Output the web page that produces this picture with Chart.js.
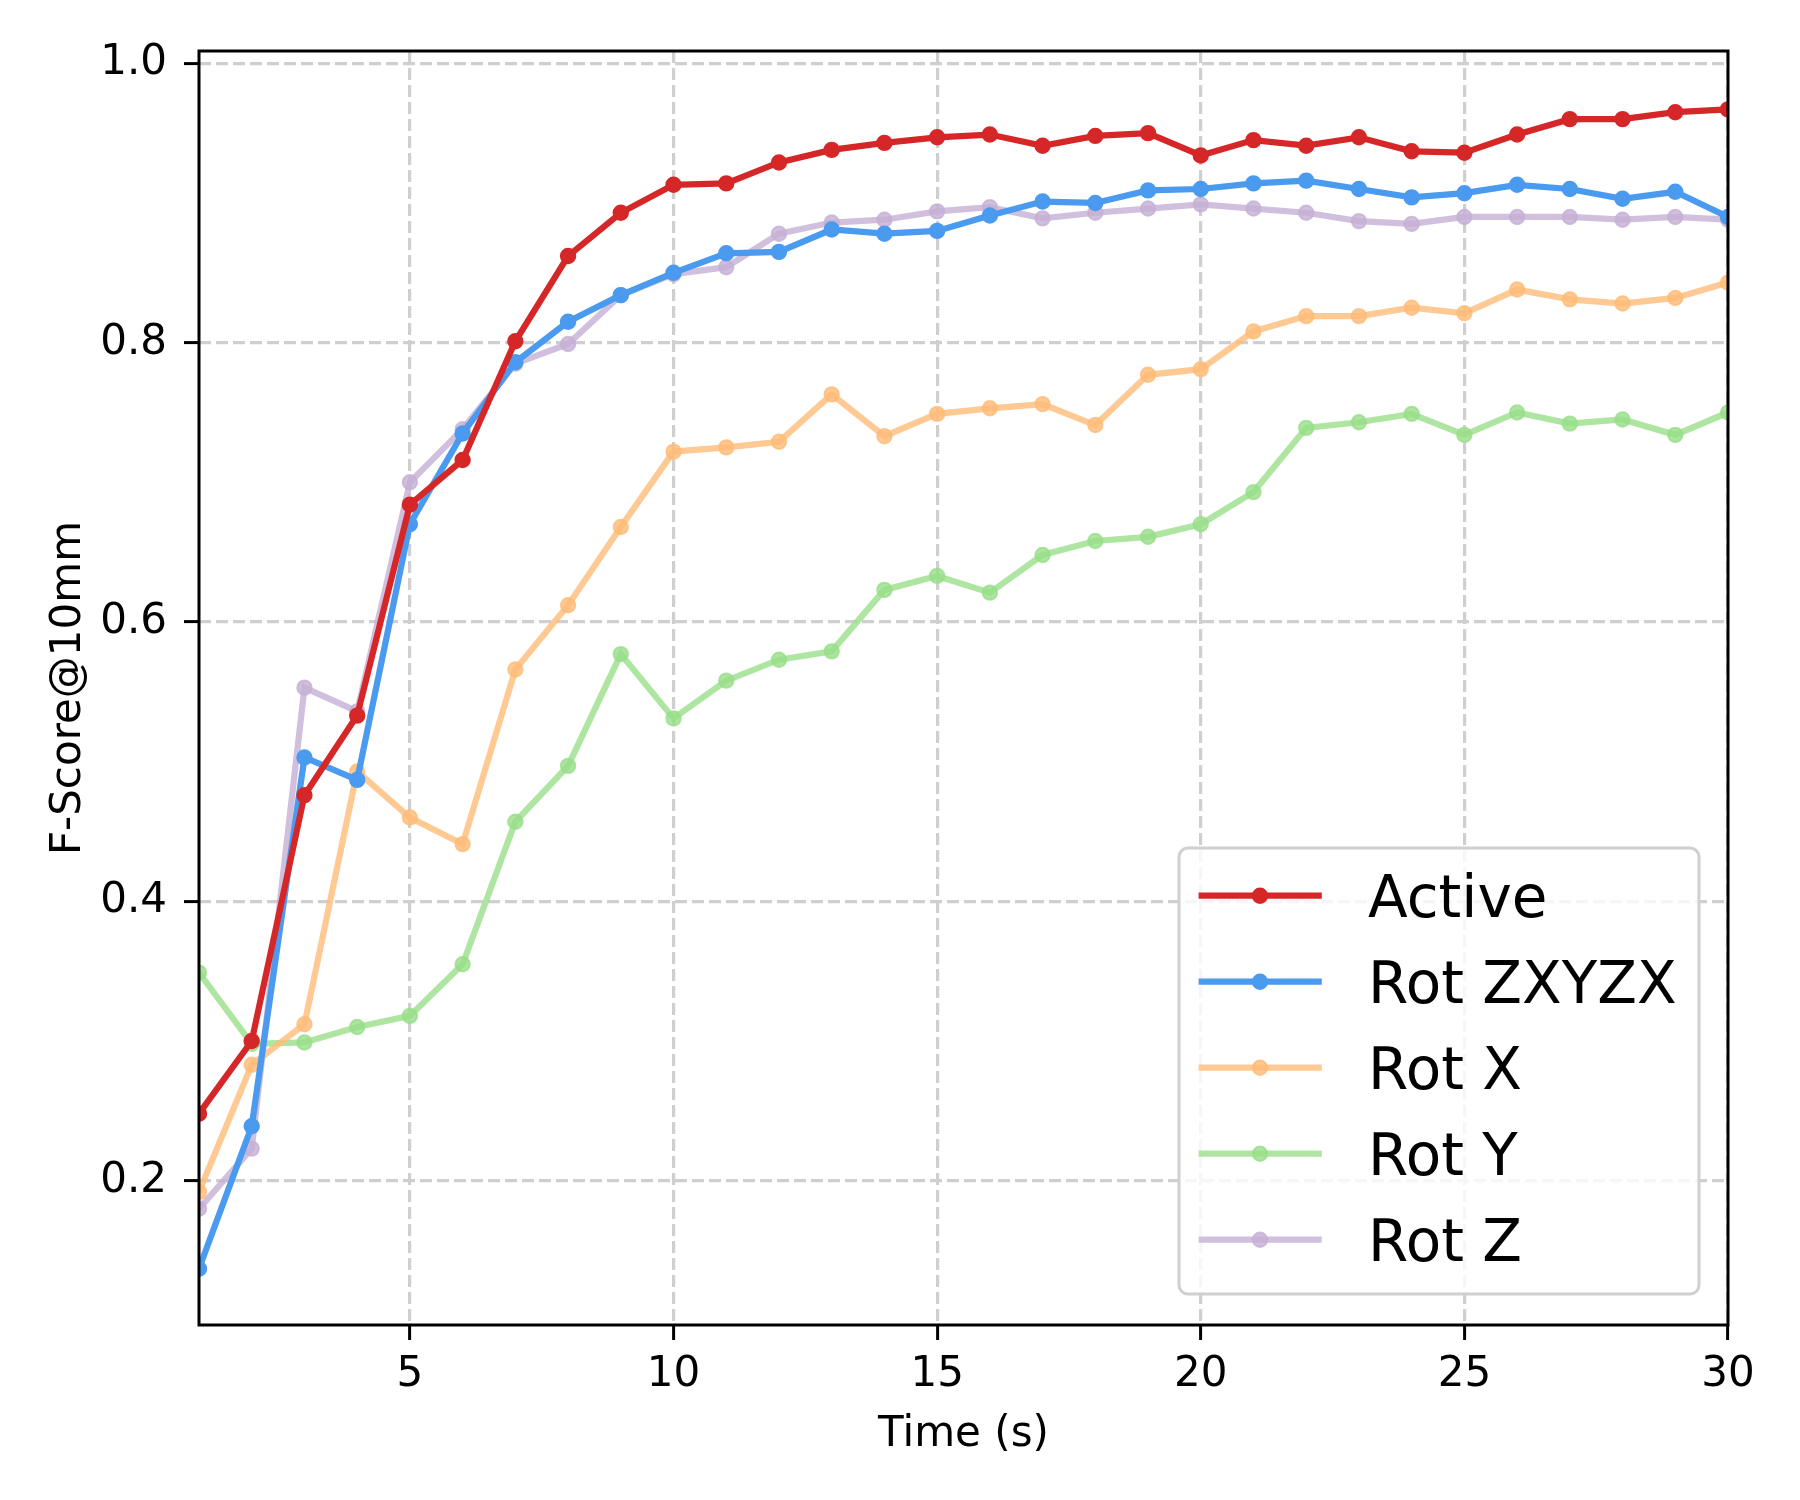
<!DOCTYPE html>
<html>
<head>
<meta charset="utf-8">
<script src="https://cdn.jsdelivr.net/npm/chart.js@4.4.1/dist/chart.umd.min.js"></script>
<style>
  html, body { margin: 0; padding: 0; background: #ffffff; }
  #wrap { width: 1800px; height: 1500px; position: relative; }
</style>
</head>
<body>
<div id="wrap"><canvas id="c" width="1800" height="1500"></canvas></div>
<script>
// ---- data ----
const times = [1,2,3,4,5,6,7,8,9,10,11,12,13,14,15,16,17,18,19,20,21,22,23,24,25,26,27,28,29,30];
const seriesNames = ['Active', 'Rot ZXYZX', 'Rot X', 'Rot Y', 'Rot Z'];
const active   = [0.248,0.300,0.476,0.533,0.684,0.716,0.801,0.862,0.893,0.913,0.914,0.929,0.938,0.943,0.947,0.949,0.941,0.948,0.950,0.934,0.945,0.941,0.947,0.937,0.936,0.949,0.960,0.960,0.965,0.967];
const rotZXYZX = [0.137,0.239,0.503,0.487,0.670,0.735,0.786,0.815,0.834,0.850,0.864,0.865,0.881,0.878,0.880,0.891,0.901,0.900,0.909,0.910,0.914,0.916,0.910,0.904,0.907,0.913,0.910,0.903,0.908,0.890];
const rotX     = [0.192,0.283,0.312,0.493,0.460,0.441,0.566,0.612,0.668,0.722,0.725,0.729,0.763,0.733,0.749,0.753,0.756,0.741,0.777,0.781,0.808,0.819,0.819,0.825,0.821,0.838,0.831,0.828,0.832,0.843];
const rotY     = [0.349,0.298,0.299,0.310,0.318,0.355,0.457,0.497,0.577,0.531,0.558,0.573,0.579,0.623,0.633,0.621,0.648,0.658,0.661,0.670,0.693,0.739,0.743,0.749,0.734,0.750,0.742,0.745,0.734,0.750];
const rotZ     = [0.180,0.223,0.553,0.536,0.700,0.738,0.785,0.799,0.834,0.849,0.854,0.878,0.886,0.888,0.894,0.897,0.889,0.893,0.896,0.899,0.896,0.893,0.887,0.885,0.890,0.890,0.890,0.888,0.890,0.888];
const xTickValues = [5, 10, 15, 20, 25, 30];
const yTickValues = [0.2, 0.4, 0.6, 0.8, 1.0];
const xTitle = 'Time (s)';
const yTitle = 'F-Score@10mm';

// ---- styles ----
const colors = ['#d62728', '#4a9af0', 'rgba(255,187,120,0.8)', 'rgba(152,223,138,0.8)', 'rgba(197,176,213,0.8)'];
const allSeries = [active, rotZXYZX, rotX, rotY, rotZ];
const FONT = "'DejaVu Sans', 'Liberation Sans', sans-serif";
const LW = 6.25, PR = 7.2, PBW = 2;

const datasets = allSeries.map((vals, i) => ({
  label: seriesNames[i],
  data: vals.map((v, k) => ({ x: times[k], y: v })),
  borderColor: colors[i],
  backgroundColor: colors[i],
  pointBackgroundColor: colors[i],
  pointBorderColor: colors[i],
  borderWidth: LW,
  pointRadius: PR,
  pointBorderWidth: PBW,
  pointHoverRadius: PR,
  tension: 0,
  fill: false,
  clip: 0
}));

const framePlugin = {
  id: 'frame',
  afterDatasetsDraw(chart) {
    const { ctx, chartArea: a } = chart;
    ctx.save();
    ctx.strokeStyle = '#000';
    ctx.lineWidth = 3;
    ctx.setLineDash([]);
    ctx.strokeRect(a.left, a.top, a.right - a.left, a.bottom - a.top);
    ctx.restore();
  }
};

const legendPlugin = {
  id: 'mplLegend',
  afterDraw(chart) {
    const { ctx, chartArea: a } = chart;
    const boxW = 520, boxH = 446;
    const right = a.right - 29, bottom = a.bottom - 31;
    const left = right - boxW, top = bottom - boxH;
    ctx.save();
    ctx.beginPath();
    ctx.roundRect(left, top, boxW, boxH, 9);
    ctx.fillStyle = 'rgba(255,255,255,0.8)';
    ctx.fill();
    ctx.lineWidth = 3;
    ctx.strokeStyle = '#d0d0d0';
    ctx.stroke();
    chart.data.datasets.forEach((ds, i) => {
      const y = top + 47.7 + i * 86;
      ctx.beginPath();
      ctx.moveTo(left + 19.6, y);
      ctx.lineTo(left + 142.8, y);
      ctx.strokeStyle = ds.borderColor;
      ctx.lineWidth = LW;
      ctx.stroke();
      ctx.beginPath();
      ctx.arc(left + 81, y, PR, 0, Math.PI * 2);
      ctx.fillStyle = ds.borderColor;
      ctx.fill();
      ctx.lineWidth = PBW;
      ctx.stroke();
      ctx.fillStyle = '#000';
      ctx.font = '58px ' + FONT;
      ctx.textBaseline = 'alphabetic';
      ctx.textAlign = 'left';
      ctx.fillText(ds.label, left + 189, y + 21);
    });
    ctx.restore();
  }
};

Chart.defaults.font.family = FONT;
Chart.defaults.color = '#000';

new Chart(document.getElementById('c'), {
  type: 'line',
  data: { datasets },
  options: {
    responsive: false,
    devicePixelRatio: 1,
    animation: false,
    events: [],
    layout: { padding: { top: 51, right: 72, left: 0, bottom: 0 } },
    plugins: { legend: { display: false }, tooltip: { enabled: false } },
    scales: {
      x: {
        type: 'linear',
        min: 1, max: 30,
        bounds: 'data',
        afterBuildTicks: s => { s.ticks = xTickValues.map(v => ({ value: v })); },
        afterFit: s => { s.height = 175; },
        ticks: { font: { size: 42 }, color: '#000', padding: 10, maxRotation: 0, autoSkip: false,
                 callback: v => String(v) },
        grid: { color: '#cfcfcf', lineWidth: 3.2, tickLength: 15, tickColor: '#000', tickWidth: 3, tickBorderDash: [] },
        border: { display: false, dash: [12, 5] },
        title: { display: true, text: xTitle, font: { size: 42 }, color: '#000', padding: { top: 0, bottom: 40 } }
      },
      y: {
        type: 'linear',
        min: 0.0967, max: 1.0088,
        bounds: 'data',
        afterBuildTicks: s => { s.ticks = yTickValues.map(v => ({ value: v })); },
        afterFit: s => { s.width = 199; },
        ticks: { font: { size: 42 }, color: '#000', padding: 17, autoSkip: false,
                 callback: v => Number(v).toFixed(1) },
        grid: { color: '#cfcfcf', lineWidth: 3.2, tickLength: 15, tickColor: '#000', tickWidth: 3, tickBorderDash: [] },
        border: { display: false, dash: [12, 5] },
        title: { display: true, text: yTitle, font: { size: 42 }, color: '#000', padding: { top: 44, bottom: 0 } }
      }
    }
  },
  plugins: [framePlugin, legendPlugin]
});
</script>
</body>
</html>
